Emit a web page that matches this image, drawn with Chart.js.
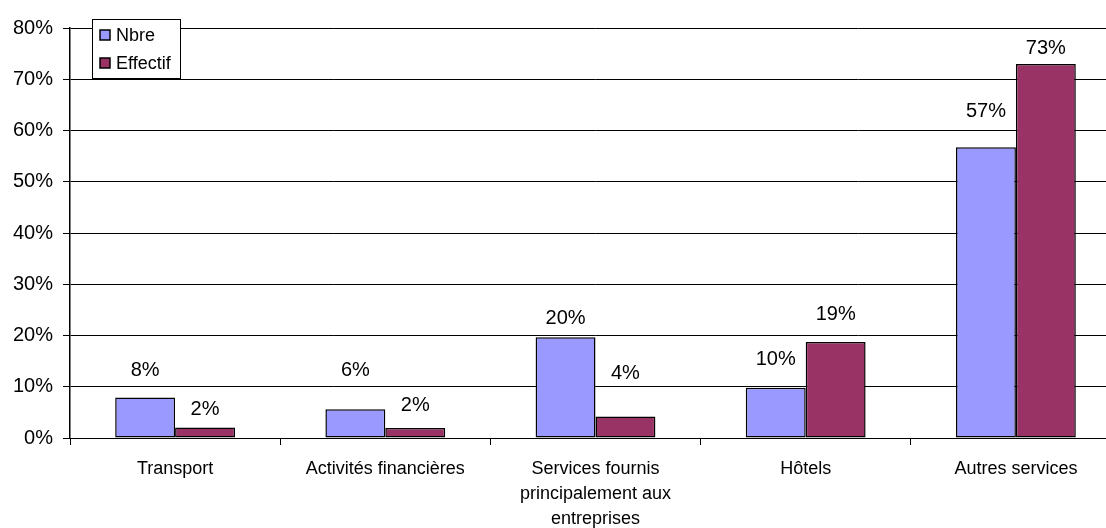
<!DOCTYPE html>
<html>
<head>
<meta charset="utf-8">
<script src="https://cdn.jsdelivr.net/npm/chart.js@4/dist/chart.umd.min.js"></script>
<style>
  html, body { margin: 0; padding: 0; background: #fff; overflow: hidden; }
  #wrap { width: 1121px; height: 528px; }
</style>
</head>
<body>
<div id="wrap"><canvas id="graphique" width="1121" height="528"></canvas></div>
<script>
const categories = [
  "Transport",
  "Activités financières",
  ["Services fournis", "principalement aux", "entreprises"],
  "Hôtels",
  "Autres services",
];
const nbre = [7.9, 5.6, 19.65, 9.8, 56.75];
const effectif = [2.05, 1.95, 4.2, 18.75, 73.0];
const y_ticks_max = 80;
const y_ticks_step = 10;

// decalage vertical des etiquettes (deplacees a la main dans l'original)
const decalage_nbre = [27, 39, 19, 28, 36];
const decalage_effectif = [18, 23, 43, 27, 15];

const couleur_nbre = "#9999FF";
const couleur_effectif = "#993366";
const police = "'Liberation Sans', Arial, sans-serif";

const etiquettes = {
  id: "etiquettes",
  afterDatasetsDraw(chart) {
    const ctx = chart.ctx;
    const decalages = [decalage_nbre, decalage_effectif];
    ctx.save();
    ctx.font = "20px " + police;
    ctx.fillStyle = "#000";
    ctx.textAlign = "center";
    ctx.textBaseline = "middle";
    chart.data.datasets.forEach(function (ds, i) {
      chart.getDatasetMeta(i).data.forEach(function (bar, j) {
        ctx.fillText(Math.round(ds.data[j]) + "%", bar.x, bar.y - decalages[i][j]);
      });
    });
    ctx.restore();
  },
};

const legende = {
  id: "legende",
  afterDraw(chart) {
    const ctx = chart.ctx;
    ctx.save();
    ctx.fillStyle = "#fff";
    ctx.fillRect(92, 19, 88, 59);
    ctx.strokeStyle = "#000";
    ctx.lineWidth = 1;
    ctx.strokeRect(92.5, 19.5, 88, 59);
    ctx.font = "18px " + police;
    ctx.textBaseline = "middle";
    chart.data.datasets.forEach(function (ds, i) {
      const y = 35 + i * 28;
      ctx.fillStyle = ds.backgroundColor;
      ctx.fillRect(100, y - 5, 10, 10);
      ctx.strokeStyle = "#000";
      ctx.lineWidth = 1.5;
      ctx.strokeRect(100, y - 5, 10, 10);
      ctx.fillStyle = "#000";
      ctx.fillText(ds.label, 116, y + 1);
    });
    ctx.restore();
  },
};

function renderiza_grafico() {
  const ctx = document.getElementById("graphique").getContext("2d");
  new Chart(ctx, {
    type: "bar",
    data: {
      labels: categories,
      datasets: [
        {
          label: "Nbre",
          data: nbre,
          backgroundColor: couleur_nbre,
          borderColor: "#000",
          borderWidth: 1.5,
          borderSkipped: false,
        },
        {
          label: "Effectif",
          data: effectif,
          backgroundColor: couleur_effectif,
          borderColor: "#000",
          borderWidth: 1.5,
          borderSkipped: false,
        },
      ],
    },
    options: {
      responsive: false,
      animation: false,
      layout: { padding: { top: 28, left: 0, right: 0, bottom: 0 } },
      categoryPercentage: 0.57,
      barPercentage: 1,
      plugins: {
        legend: { display: false },
        tooltip: { enabled: false },
      },
      scales: {
        x: {
          offset: true,
          grid: {
            offset: true,
            drawOnChartArea: false,
            drawTicks: true,
            tickLength: 7,
            tickColor: "#000",
          },
          border: { color: "#000", width: 1 },
          ticks: {
            color: "#000",
            font: { family: police, size: 18, lineHeight: 1.4 },
            padding: 11,
            maxRotation: 0,
            autoSkip: false,
          },
          afterFit: function (scale) {
            scale.height = 90;
          },
        },
        y: {
          min: 0,
          max: y_ticks_max,
          grid: {
            color: "#000",
            lineWidth: 1,
            tickLength: 7,
            tickColor: "#000",
          },
          border: { color: "#000", width: 1.5 },
          ticks: {
            stepSize: y_ticks_step,
            color: "#000",
            font: { family: police, size: 20 },
            padding: 10,
            callback: function (v) {
              return v + "%";
            },
          },
          afterFit: function (scale) {
            scale.width = 70;
          },
        },
      },
    },
    plugins: [etiquettes, legende],
  });
}

renderiza_grafico();
</script>
</body>
</html>
